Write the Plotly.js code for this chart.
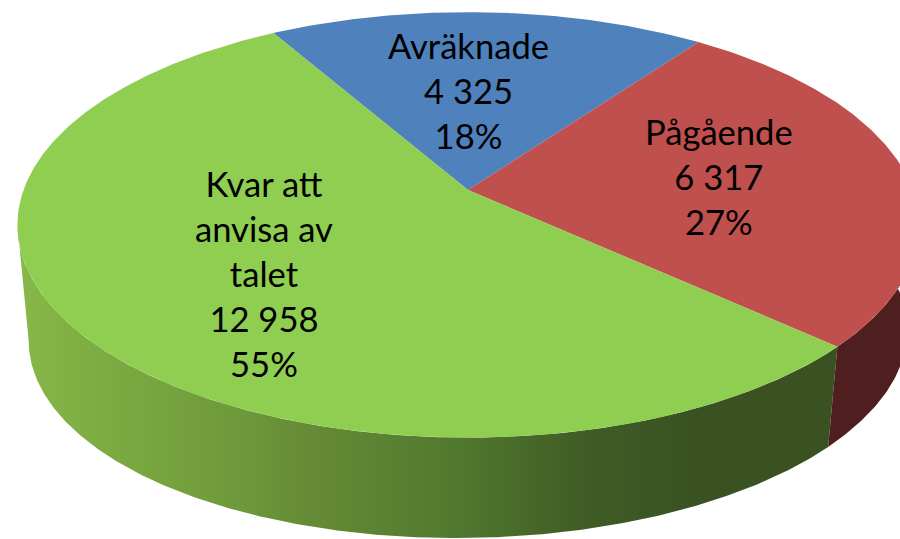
<!DOCTYPE html>
<html>
<head>
<meta charset="utf-8">
<script src="https://cdn.plot.ly/plotly-3.0.1.min.js"></script>
<style>html,body{margin:0;padding:0;background:#fff}#chart{width:900px;height:539px}</style>
</head>
<body>
<div id="chart"></div>
<script>
// Data
var categories = ['Avräknade', 'Pågående', 'Kvar att<br>anvisa av<br>talet'];
var valueLabels = ['4 325', '6 317', '12 958'];
var percentLabels = ['18%', '27%', '55%'];
var values = [4325, 6317, 12958];
var topColors = ['#4f81bd', '#c0504d', '#8fce50'];
var labelX = [468, 719, 264];
var labelY = [90.5, 176, 273];

// Perspective view of the disc
var startDeg = 120, cx = 468, cy = 190, A = 444.5, B = 207, K = 0.164;
var wallScaleX = 0.975, wallScaleY = 0.953, wallCy = 302, wallTilt = -0.012;

function project(deg, lower) {
  var t = deg * Math.PI / 180, u = Math.cos(t), v = Math.sin(t), w = 1 + K * v;
  var dx = A * u / w, dy = -B * v / w;
  return lower ? [cx + dx * wallScaleX, wallCy + dy * wallScaleY + wallTilt * dx] : [cx + dx, cy + dy];
}
function arc(a, b, lower) {
  var n = Math.max(2, Math.ceil(Math.abs(b - a) * 2)), out = [];
  for (var i = 0; i <= n; i++) out.push(project(a + (b - a) * i / n, lower));
  return out;
}
function poly(pts, fillcolor, gradient) {
  var tr = {
    type: 'scatter', mode: 'lines', fill: 'toself', hoverinfo: 'skip',
    x: pts.map(function (p) { return p[0]; }),
    y: pts.map(function (p) { return p[1]; }),
    line: { width: 0 }, showlegend: false
  };
  if (gradient) tr.fillgradient = gradient; else tr.fillcolor = fillcolor;
  return tr;
}

var total = values.reduce(function (s, v) { return s + v; }, 0);
var bounds = [startDeg];
values.forEach(function (v, i) { bounds.push(bounds[i] - v / total * 360); });

var traces = [];
// Side walls
var redEnd = bounds[2];
var greenWall = arc(189.4, 360 + redEnd, false).concat(arc(360 + redEnd, 189.4, true));
traces.push(poly(greenWall, null, {
  type: 'horizontal', start: 18, stop: 830,
  colorscale: [[0, '#87b849'], [0.1, '#7dac42'], [0.28, '#6d983a'], [0.35, '#668c36'],
               [0.53, '#527a2f'], [0.7, '#3f5c25'], [0.83, '#3a5222'], [1, '#3a5222']]
}));
var redWall = arc(redEnd, 9, false).concat(arc(9, redEnd, true));
traces.push(poly(redWall, '#4f1f20'));
// Top face
values.forEach(function (v, i) {
  var pts = [[cx, cy]].concat(arc(bounds[i], bounds[i + 1], false));
  pts.push([cx, cy]);
  traces.push(poly(pts, topColors[i]));
});

var annotations = categories.map(function (c, i) {
  return {
    x: labelX[i], y: labelY[i], xref: 'x', yref: 'y', showarrow: false,
    xanchor: 'center', yanchor: 'middle', align: 'center',
    text: c + '<br>' + valueLabels[i] + '<br>' + percentLabels[i],
    font: { family: 'Lato, Carlito, sans-serif', size: 34.6, color: '#000' }
  };
});

var layout = {
  width: 900, height: 539, margin: { l: 0, r: 0, t: 0, b: 0 },
  paper_bgcolor: '#fff', plot_bgcolor: '#fff', showlegend: false,
  xaxis: { range: [0, 900], visible: false, fixedrange: true },
  yaxis: { range: [539, 0], visible: false, fixedrange: true },
  annotations: annotations
};
Plotly.newPlot('chart', traces, layout, { displayModeBar: false, staticPlot: true });
</script>
</body>
</html>
